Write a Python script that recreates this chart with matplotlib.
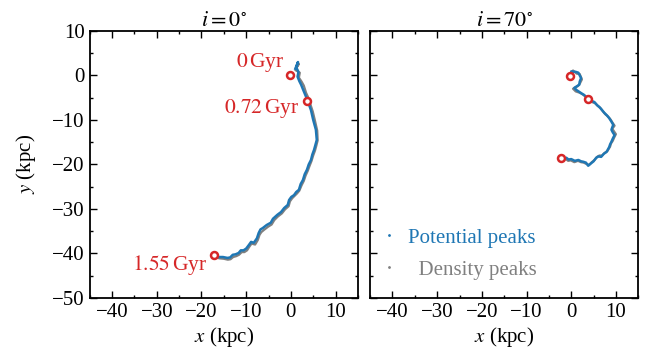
import matplotlib.pyplot as plt
import matplotlib.lines as mlines
import numpy as np

plt.rcParams['font.family'] = 'serif'
plt.rcParams['font.serif'] = ['Liberation Serif', 'DejaVu Serif']
plt.rcParams['mathtext.fontset'] = 'stix'
plt.rcParams['font.size'] = 15

# i = 0 deg : trajectory of the peaks (kpc)
pot0_x = [1.0, 1.6, 1.2, 1.7, 1.5, 1.9, 2.3, 2.9, 3.4, 4.0, 4.5, 5.0, 5.6, 5.8, 5.5,
          5.2, 4.8, 4.5, 4.0, 3.6, 3.1, 2.7, 2.2, 1.8, 1.2, 0.7, 0.1, -0.4, -0.7,
          -1.5, -2.2, -3.0, -4.0, -4.5, -5.4, -6.3, -6.8, -7.2, -7.6, -8.3, -8.9,
          -9.4, -10.0, -10.6, -11.2, -11.7, -12.4, -13.0, -13.6, -14.2, -15.2, -16.2, -17.0]
pot0_y = [1.5, 3.0, 1.8, 0.8, -0.3, -1.3, -2.1, -3.6, -4.8, -6.4, -7.8, -10.0, -12.2,
          -14.5, -15.6, -16.7, -17.8, -19.0, -20.0, -21.2, -22.2, -23.5, -24.4, -25.7,
          -26.2, -26.9, -27.3, -28.0, -29.1, -29.8, -30.7, -31.3, -32.2, -33.1, -33.6,
          -34.3, -34.6, -35.4, -36.6, -37.6, -37.4, -38.1, -38.9, -39.3, -39.3, -39.9,
          -40.2, -40.3, -40.9, -41.0, -40.8, -40.8, -40.6]
den0_x = [1.2, 1.8, 1.0, 2.0, 1.8, 2.4, 2.9, 3.4, 3.9, 4.4, 4.9, 5.4, 5.9, 6.0, 5.7,
          5.4, 5.0, 4.6, 4.2, 3.8, 3.3, 2.9, 2.4, 1.9, 1.4, 0.8, 0.3, -0.2, -0.5,
          -1.3, -2.0, -2.9, -3.7, -4.3, -5.1, -6.0, -6.6, -7.0, -7.4, -8.0, -8.8,
          -9.3, -9.8, -10.4, -11.0, -11.6, -12.2, -12.9, -13.5, -14.1, -15.0, -16.0, -17.0]
den0_y = [1.8, 2.6, 1.2, 0.6, -0.5, -1.4, -2.3, -3.9, -5.0, -6.6, -8.1, -10.2, -12.4,
          -14.6, -15.8, -16.9, -18.0, -19.3, -20.3, -21.4, -22.5, -23.7, -24.7, -25.9,
          -26.5, -27.1, -27.6, -28.3, -29.4, -30.1, -31.0, -31.7, -32.5, -33.5, -34.0,
          -34.7, -35.2, -35.8, -37.0, -38.0, -37.8, -38.5, -39.3, -39.7, -39.7, -40.3,
          -40.6, -40.8, -41.3, -41.4, -41.2, -41.1, -40.8]

# i = 70 deg
pot70_x = [-0.2, 0.3, 0.0, 1.0, 1.6, 2.2, 1.9, 1.8, 0.7, 1.2, 1.8, 2.4, 2.9, 3.8,
           4.5, 5.2, 5.8, 6.3, 6.9, 7.4, 8.0, 8.5, 9.0, 9.4, 9.0, 9.3, 9.7, 9.3,
           9.0, 8.7, 8.5, 7.9, 7.3, 6.7, 6.1, 5.6, 5.0, 4.5, 3.8, 3.3, 2.7, 2.2,
           1.6, 0.8, 0.0, -0.6, -1.1, -1.7, -2.2]
pot70_y = [-0.1, 0.4, 0.9, 0.8, 0.6, -0.6, -1.4, -2.1, -2.8, -3.3, -3.7, -4.1, -4.4,
           -5.3, -5.7, -6.0, -6.7, -7.1, -7.8, -8.4, -9.0, -9.6, -10.4, -11.1, -12.2,
           -12.8, -13.4, -14.2, -14.9, -15.5, -16.1, -17.2, -17.6, -18.3, -18.2, -18.5,
           -19.3, -19.7, -20.3, -19.6, -19.4, -19.3, -19.0, -19.2, -18.8, -18.9, -18.5,
           -18.8, -18.8]
den70_x = [-0.4, 0.2, 0.4, 1.2, 1.9, 2.4, 2.0, 1.5, 0.4, 1.0, 1.9, 2.6, 3.1, 4.0,
           4.7, 5.4, 6.0, 6.6, 7.1, 7.6, 8.2, 8.8, 9.3, 9.7, 9.2, 9.6, 10.0, 9.6,
           9.3, 8.9, 8.7, 8.1, 7.5, 6.9, 6.3, 5.8, 5.2, 4.6, 4.0, 3.4, 2.8, 2.2,
           1.5, 0.7, -0.1, -0.7, -1.2, -1.8, -2.2]
den70_y = [0.2, 0.7, 1.1, 0.4, 0.3, -0.9, -1.7, -2.4, -3.0, -3.6, -3.9, -4.3, -4.7,
           -5.5, -6.0, -6.3, -6.9, -7.4, -8.1, -8.7, -9.2, -9.9, -10.7, -11.3, -12.0,
           -12.6, -13.2, -14.0, -14.7, -15.3, -16.0, -17.0, -17.4, -18.0, -18.0, -18.3,
           -19.0, -19.5, -20.1, -19.9, -19.6, -19.5, -19.2, -19.5, -19.1, -19.2, -18.8,
           -19.0, -18.8]

# snapshot markers
snap0_x = [-0.2, 3.6, -17.3]
snap0_y = [0.1, -5.7, -40.3]
snap70_x = [-0.2, 3.8, -2.3]
snap70_y = [-0.1, -5.3, -18.6]
snap_labels = ['$0\\,$Gyr', '$0.72\\,$Gyr', '$1.55\\,$Gyr']
label_x = [-1.4, 1.8, -18.8]
label_y = [3.0, -7.4, -42.5]

blue = '#1f77b4'
red = '#d62728'

fig = plt.figure(figsize=(6.46, 3.59), dpi=100)
ax1 = fig.add_axes([0.139, 0.170, 0.415, 0.744])
ax2 = fig.add_axes([0.573, 0.170, 0.415, 0.744])

panels = [(ax1, pot0_x, pot0_y, den0_x, den0_y, snap0_x, snap0_y, '$i = 0^{\\circ}$'),
          (ax2, pot70_x, pot70_y, den70_x, den70_y, snap70_x, snap70_y, '$i = 70^{\\circ}$')]

for ax, px, py, dx, dy, sx, sy, title in panels:
    ax.plot(dx, dy, color='gray', lw=1.6, zorder=2)
    ax.plot(px, py, color=blue, lw=1.8, zorder=3)
    ax.plot(sx, sy, 'o', mfc='white', mec=red, mew=1.8, ms=5, zorder=4)
    ax.set_xlim(-45, 15)
    ax.set_ylim(-50, 10)
    ax.set_xticks([-40, -30, -20, -10, 0, 10])
    ax.set_xticks(np.arange(-45, 16, 5), minor=True)
    ax.set_yticks(np.arange(-50, 11, 10))
    ax.set_yticks(np.arange(-50, 11, 5), minor=True)
    ax.tick_params(which='both', direction='in', top=True, right=True, width=1.0,
                   labelsize=15)
    ax.tick_params(which='major', length=5)
    ax.tick_params(which='minor', length=2.5)
    for sp in ax.spines.values():
        sp.set_linewidth(1.3)
    ax.set_title(title, fontsize=16, pad=3)
    ax.set_xlabel('$x$ (kpc)', fontsize=15, labelpad=2)

for lab, lx, ly in zip(snap_labels, label_x, label_y):
    ax1.text(lx, ly, lab, color=red, fontsize=15.5, ha='right', va='center')

ax1.set_ylabel('$y$ (kpc)', fontsize=15, labelpad=10)
ax2.set_yticklabels([])

# legend: potential first, density second
hp = mlines.Line2D([], [], color=blue, marker='.', ls='none', ms=2)
hd = mlines.Line2D([], [], color='gray', marker='.', ls='none', ms=2)
ax2.legend([hp, hd], ['Potential peaks', '  Density peaks'], loc='center left',
           bbox_to_anchor=(0.0, 0.165), frameon=False, fontsize=15,
           labelcolor='linecolor', handlelength=1.0, handletextpad=0.4,
           borderaxespad=0.0, labelspacing=0.6)

fig.savefig('out.png', dpi=100)
